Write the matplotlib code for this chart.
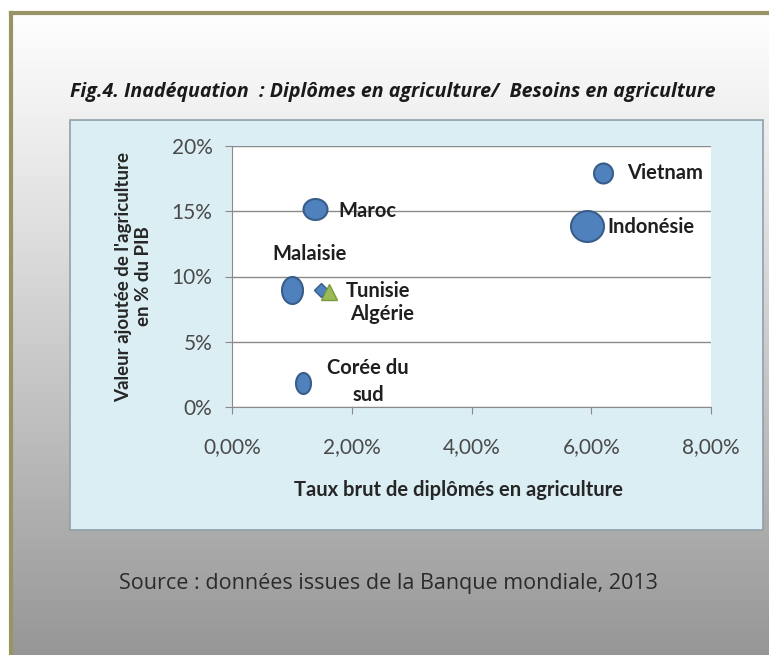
import numpy as np
import matplotlib
matplotlib.use("Agg")
import matplotlib.pyplot as plt
from matplotlib.patches import Rectangle
from matplotlib.lines import Line2D
from matplotlib.ticker import FuncFormatter

# data (x: taux brut de diplomes, y: VA agriculture % PIB)
countries = ["Vietnam", "Indonésie", "Maroc", "Malaisie", "Corée du\nsud"]
taux_diplomes = [6.20, 5.93, 1.38, 1.00, 1.19]
va_agri = [17.9, 13.85, 15.15, 8.95, 1.85]

tunisie = (1.49, 8.95)
algerie = (1.62, 8.85)

x_ticks = [0, 2, 4, 6, 8]
y_ticks = [0, 5, 10, 15, 20]

W, H = 769, 655
plt.rcParams['font.family'] = ['Lato', 'DejaVu Sans']
fig = plt.figure(figsize=(W / 100, H / 100), dpi=100)
fig.patch.set_facecolor("white")

def fx(px):
    return px / W

def fy(py):
    return 1 - py / H

# gray gradient background inside the frame
bg = fig.add_axes([fx(11), 0, 1 - fx(11), fy(13)])
bg.set_zorder(-10)
grad = np.linspace(0, 1, 256).reshape(-1, 1)
top_c = np.array([0.995, 0.995, 0.995])
bot_c = np.array([0.59, 0.59, 0.59])
img = top_c + (bot_c - top_c) * grad[..., None] ** 1.1
bg.imshow(img.reshape(256, 1, 3), aspect="auto", extent=[0, 1, 0, 1])
bg.set_axis_off()

# olive frame lines
fig.add_artist(Line2D([fx(11), fx(11)], [0, fy(13)], color="#9a9363", lw=3, zorder=-4))
fig.add_artist(Line2D([fx(11), 1], [fy(13), fy(13)], color="#9a9363", lw=3, zorder=-4))

# light blue chart panel
fig.add_artist(Rectangle((fx(70), fy(530)), fx(763) - fx(70), fy(120) - fy(530),
                         transform=fig.transFigure, facecolor="#dbeef4",
                         edgecolor="#8fa0a8", lw=1.2, zorder=-5))

fig.text(fx(70), fy(92), "Fig.4. Inadéquation  : Diplômes en agriculture/  Besoins en agriculture",
         fontsize=14.1, fontweight="bold", fontstyle="italic", color="#1a1a1a",
         ha="left", va="center", family=["Open Sans", "DejaVu Sans"])

fig.text(fx(388), fy(584), "Source : données issues de la Banque mondiale, 2013",
         fontsize=15.5, color="#2b2b2b", ha="center", va="center",
         family=["Open Sans", "DejaVu Sans"])

ax = fig.add_axes([fx(232), fy(407), fx(711) - fx(232), fy(146) - fy(407)])
ax.set_facecolor("white")
ax.set_xlim(0, 8)
ax.set_ylim(0, 20)
ax.set_xticks(x_ticks)
ax.set_yticks(y_ticks)
ax.xaxis.set_major_formatter(FuncFormatter(lambda v, p: f"{v:.2f}%".replace(".", ",")))
ax.yaxis.set_major_formatter(FuncFormatter(lambda v, p: f"{v:.0f}%"))
ax.grid(axis="y", color="#8a8a8a", lw=1)
ax.set_axisbelow(True)
for s in ["top", "right"]:
    ax.spines[s].set_visible(False)
for s in ["left", "bottom"]:
    ax.spines[s].set_color("#8a8a8a")
ax.tick_params(axis="both", colors="#8a8a8a", length=5, labelsize=15,
               labelcolor="#4a4a4a")
ax.tick_params(axis="x", pad=17)
ax.tick_params(axis="y", pad=9)

ax.set_xlabel("Taux brut de diplômés en agriculture", fontsize=14.5,
              fontweight="bold", color="#262626", va="center")
ax.xaxis.set_label_coords((458 - 232) / 479, (407 - 490) / 261)
ax.set_ylabel("Valeur ajoutée de l'agriculture\nen % du PIB", fontsize=13.5,
              fontweight="bold", color="#262626", labelpad=14, linespacing=1.25)

# bubble markers (width, height in px) - ellipses as in the stretched original
bubble_px = [(19, 20), (33, 31), (24, 21), (21, 27), (15, 21)]
t = np.linspace(0, 2 * np.pi, 60)
for xv, yv, (w, h) in zip(taux_diplomes, va_agri, bubble_px):
    verts = np.column_stack([np.cos(t) * w / max(w, h), np.sin(t) * h / max(w, h)])
    ax.plot([xv], [yv], marker=verts, ms=max(w, h) / 1.389, color="#4f81bd",
            mec="#385d8a", mew=1.5, ls="none", zorder=3)

ax.plot([tunisie[0]], [tunisie[1]], marker="D", ms=7, color="#4f81bd",
        mec="#385d8a", mew=1, ls="none", zorder=3)
ax.plot([algerie[0]], [algerie[1]], marker="^", ms=11, color="#9bbb59",
        mec="#7a9a3e", mew=1, ls="none", zorder=4)

lab = dict(fontsize=14.5, fontweight="bold", color="#1f1f1f", va="center")
ax.text(6.60, 17.95, countries[0], ha="left", **lab)
ax.text(6.27, 13.8, countries[1], ha="left", **lab)
ax.text(1.77, 15.0, countries[2], ha="left", **lab)
ax.text(1.30, 11.75, countries[3], ha="center", **lab)
ax.text(1.90, 8.9, "Tunisie", ha="left", **lab)
ax.text(1.97, 7.1, "Algérie", ha="left", **lab)
ax.text(2.27, 1.95, countries[4], ha="center", linespacing=1.45, **lab)

fig.savefig("out.png", dpi=100)
